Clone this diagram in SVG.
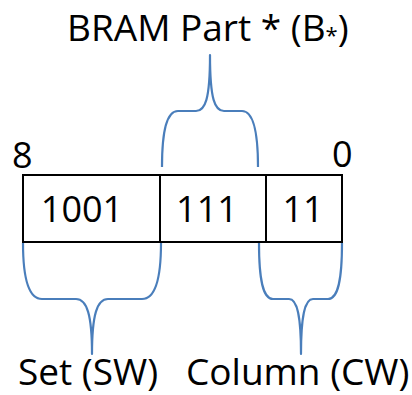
<svg xmlns="http://www.w3.org/2000/svg" width="412" height="395" viewBox="0 0 412 395">
<style>
text{font-family:"Open Sans","Noto Sans","Liberation Sans",sans-serif;fill:#000}
.lbl{font-size:37px}
.bit{font-size:36px}
.cell{fill:#fff;stroke:#000;stroke-width:2}
.brace{fill:none;stroke:#4a7ebb;stroke-width:2.2;stroke-linejoin:round}
</style>
<rect width="412" height="395" fill="#fff"/>
<g id="title"><text class="lbl" x="67" y="41" font-size="37.5">BRAM Part * (B<tspan font-size="22" dy="2">*</tspan><tspan dy="-2">)</tspan></text></g>
<g id="msb"><text class="bit" x="12" y="168">8</text></g>
<g id="lsb"><text class="bit" x="332" y="167">0</text></g>
<g id="set-field"><rect class="cell" x="23" y="175" width="137" height="67"/><text class="bit" x="82" y="222" text-anchor="middle">1001</text></g>
<g id="bram-field"><rect class="cell" x="160" y="175" width="106" height="67"/><text class="bit" x="207" y="222" text-anchor="middle">111</text></g>
<g id="col-field"><rect class="cell" x="266" y="175" width="76" height="67"/><text class="bit" x="303" y="222" text-anchor="middle">11</text></g>
<g id="set-label"><text class="lbl" x="18" y="385">Set (SW)</text></g>
<g id="col-label"><text class="lbl" x="186" y="385">Column (CW)</text></g>
<g id="connectors">
<path class="brace" d="M162,167 C162,130 167,111 178,111 L196,111 C205,111 210,100 210,55 C210,100 215,111 224,111 L242,111 C253,111 258,130 258,167"/>
<path class="brace" d="M23,243 C23,280 29,299 42,299 L76,299 C87,299 92,315 92,354 C92,315 97,299 108,299 L142,299 C155,299 161,280 161,243"/>
<path class="brace" d="M259,243 C259,280 263,299 273,299 L289,299 C297,299 301,315 301,354 C301,315 305,299 313,299 L328,299 C338,299 342,280 342,243"/>
</g>
</svg>
